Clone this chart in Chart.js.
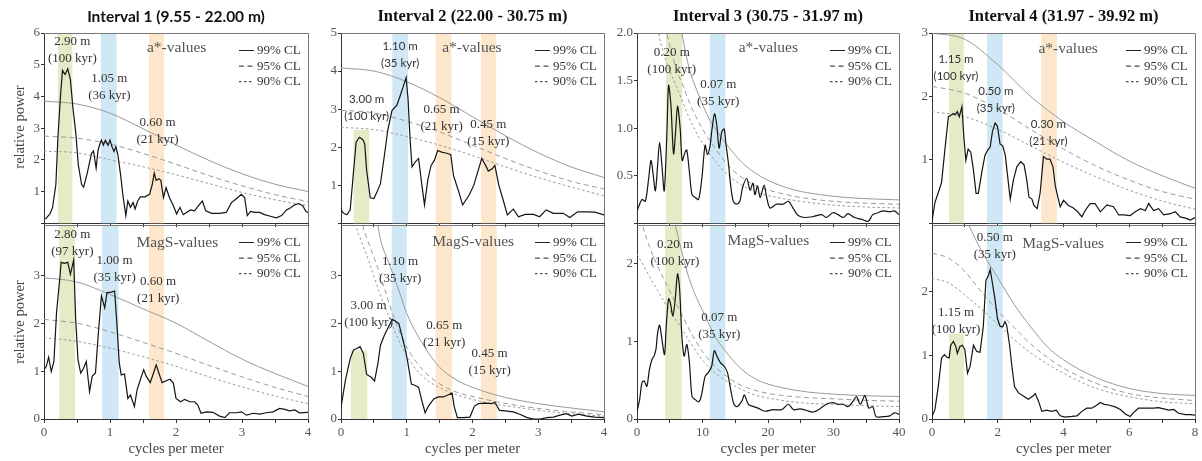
<!DOCTYPE html>
<html>
<head>
<meta charset="utf-8">
<title>Spectral analysis</title>
<script src="https://cdn.jsdelivr.net/npm/chart.js@4.4.1/dist/chart.umd.min.js"></script>
<style>
  body { margin: 0; width: 1202px; height: 461px; background: #fff; position: relative; overflow: hidden; }
  canvas { position: absolute; }
  .txt { position: absolute; transform: translate(-50%, -50%); white-space: nowrap; }
  .ttl { font: bold 16.5px "Liberation Serif", serif; color: #111; }
  .ttl.sans { font: bold 15.5px Lato, sans-serif; }
  .ax { font: 14.5px "Liberation Serif", serif; color: #444; }
  .rot { transform: translate(-50%, -50%) rotate(-90deg); }
</style>
</head>
<body>
<script>
// ---- data: [cycles per meter, relative power] ----
const i1aSpec = [[0.02,0.13],[0.09,0.29],[0.13,0.50],[0.18,1.22],[0.21,2.67],[0.25,4.02],[0.28,4.82],[0.32,4.69],[0.36,4.87],[0.40,4.53],[0.44,3.60],[0.48,2.88],[0.52,1.84],[0.57,1.22],[0.60,1.14],[0.65,1.53],[0.72,2.20],[0.75,2.28],[0.79,1.74],[0.82,2.31],[0.84,2.46],[0.87,2.62],[0.90,2.46],[0.93,2.62],[0.97,2.46],[1.00,2.62],[1.03,2.41],[1.06,2.26],[1.09,2.41],[1.12,2.15],[1.16,1.53],[1.20,0.81],[1.24,0.24],[1.27,0.70],[1.31,0.50],[1.35,0.65],[1.38,0.45],[1.42,0.70],[1.46,0.83],[1.53,0.83],[1.60,0.91],[1.64,1.22],[1.67,1.58],[1.70,1.35],[1.74,1.40],[1.77,1.35],[1.81,0.81],[1.85,1.12],[1.90,0.81],[1.96,0.55],[2.01,0.29],[2.06,0.50],[2.11,0.27],[2.16,0.34],[2.22,0.42],[2.28,0.39],[2.35,0.58],[2.40,0.70],[2.45,0.39],[2.54,0.31],[2.66,0.31],[2.76,0.34],[2.84,0.65],[2.92,0.78],[2.99,0.91],[3.04,0.81],[3.08,0.24],[3.13,0.37],[3.19,0.34],[3.27,0.34],[3.34,0.27],[3.43,0.22],[3.52,0.17],[3.60,0.24],[3.67,0.41],[3.73,0.48],[3.80,0.58],[3.86,0.62],[3.92,0.55],[3.97,0.37],[4.00,0.34]];
const i1bSpec = [[0,1.03],[0.035,1.10],[0.07,1.29],[0.11,0.99],[0.15,1.20],[0.19,2.22],[0.24,2.95],[0.26,3.27],[0.31,3.25],[0.36,3.27],[0.40,3.02],[0.45,3.32],[0.48,2.08],[0.515,1.24],[0.556,0.96],[0.60,1.06],[0.64,1.20],[0.69,0.57],[0.73,0.89],[0.78,0.96],[0.82,1.73],[0.87,2.57],[0.92,2.32],[0.955,2.64],[1.02,2.65],[1.07,2.67],[1.10,2.08],[1.14,1.17],[1.17,0.92],[1.22,0.94],[1.27,0.43],[1.31,0.50],[1.37,0.26],[1.41,0.61],[1.46,0.82],[1.51,1.03],[1.55,0.89],[1.61,0.76],[1.66,0.96],[1.70,1.13],[1.74,0.96],[1.79,0.76],[1.85,0.80],[1.91,0.83],[1.96,0.75],[2.0,0.43],[2.07,0.36],[2.13,0.41],[2.21,0.36],[2.28,0.36],[2.33,0.29],[2.38,0.12],[2.46,0.15],[2.56,0.14],[2.66,0.06],[2.74,0.03],[2.81,0.13],[2.91,0.13],[2.99,0.15],[3.07,0.08],[3.17,0.12],[3.27,0.10],[3.37,0.13],[3.47,0.15],[3.57,0.22],[3.65,0.20],[3.72,0.17],[3.80,0.19],[3.87,0.13],[4.0,0.14]];
const i2aSpec = [[0,0.35],[0.04,0.26],[0.09,0.22],[0.14,0.35],[0.19,1.35],[0.23,2.13],[0.28,2.26],[0.33,2.2],[0.36,2.09],[0.39,1.39],[0.445,0.67],[0.50,0.65],[0.55,0.83],[0.60,1.04],[0.66,1.78],[0.71,2.43],[0.775,2.96],[0.85,3.10],[0.90,3.35],[0.95,3.61],[0.99,3.83],[1.02,3.26],[1.05,2.22],[1.08,1.48],[1.13,1.61],[1.18,1.70],[1.23,1.0],[1.27,0.48],[1.32,1.13],[1.37,1.52],[1.42,1.65],[1.47,1.91],[1.53,1.87],[1.61,1.84],[1.67,1.80],[1.71,1.26],[1.79,0.83],[1.85,0.48],[1.90,0.61],[1.95,0.74],[2.02,1.0],[2.08,1.35],[2.14,1.70],[2.20,1.52],[2.24,1.37],[2.30,1.43],[2.34,1.52],[2.40,1.0],[2.46,0.65],[2.53,0.22],[2.62,0.37],[2.70,0.17],[2.80,0.23],[2.93,0.23],[3.02,0.17],[3.12,0.35],[3.23,0.26],[3.38,0.26],[3.48,0.15],[3.60,0.30],[3.74,0.30],[3.86,0.29],[4.0,0.22]];
const i2bSpec = [[0,0.24],[0.066,0.80],[0.14,1.26],[0.19,1.44],[0.24,1.47],[0.29,1.51],[0.34,1.37],[0.39,0.93],[0.46,0.87],[0.51,0.79],[0.56,1.15],[0.60,1.54],[0.66,1.75],[0.71,1.89],[0.75,2.0],[0.78,2.08],[0.83,2.04],[0.88,1.99],[0.93,1.72],[0.98,1.44],[1.01,1.23],[1.07,0.73],[1.13,0.70],[1.18,0.66],[1.23,0.38],[1.28,0.13],[1.33,0.27],[1.41,0.42],[1.48,0.46],[1.56,0.46],[1.64,0.51],[1.69,0.54],[1.72,0.27],[1.77,0.03],[1.86,0.03],[1.96,0.04],[2.03,0.27],[2.09,0.32],[2.19,0.33],[2.29,0.32],[2.34,0.35],[2.41,0.18],[2.50,0.17],[2.62,0.15],[2.72,0.10],[2.83,0.03],[2.93,0.0],[3.03,0.0],[3.13,0.03],[3.23,0.04],[3.33,0.08],[3.43,0.11],[3.51,0.06],[3.61,0.10],[3.74,0.06],[3.86,0.04],[4.0,0.03]];
const i3aSpec = [[0,0.13],[0.4,0.2],[0.76,0.25],[1.27,0.23],[1.78,0.47],[2.13,0.66],[2.44,0.53],[2.8,0.34],[3.15,0.61],[3.45,0.85],[3.8,0.61],[4.16,0.34],[4.57,0.96],[4.82,1.45],[5.18,1.24],[5.58,0.73],[5.89,0.96],[6.19,1.23],[6.6,0.99],[6.9,0.66],[7.36,0.75],[7.6,0.77],[8.0,0.54],[8.4,0.30],[8.9,0.27],[9.4,0.25],[9.9,0.47],[10.4,0.82],[10.76,0.72],[11.17,0.82],[11.4,0.96],[11.83,1.15],[12.18,1.03],[12.54,0.79],[12.94,0.96],[13.3,0.99],[13.6,0.82],[13.96,0.63],[14.3,0.40],[14.7,0.23],[15.2,0.20],[15.7,0.23],[16.1,0.37],[16.75,0.47],[17.26,0.35],[17.7,0.42],[18.0,0.30],[18.4,0.39],[18.8,0.27],[19.4,0.40],[19.8,0.27],[20.3,0.16],[21.3,0.20],[22.3,0.20],[23.1,0.23],[23.9,0.15],[24.6,0.08],[25.6,0.06],[26.9,0.07],[28.2,0.09],[28.9,0.06],[29.9,0.11],[30.7,0.09],[31.5,0.06],[32.2,0.10],[33.2,0.06],[34.3,0.04],[35.3,0.02],[36.0,0.09],[36.8,0.11],[37.6,0.13],[38.6,0.12],[39.3,0.13],[40,0.09]];
const i3bSpec = [[0,0.10],[0.4,0.25],[0.76,0.47],[1.1,0.49],[1.5,0.42],[1.9,0.64],[2.3,0.77],[2.6,0.81],[2.9,0.90],[3.15,1.11],[3.45,1.21],[3.8,1.03],[4.2,0.83],[4.47,1.20],[4.82,1.55],[5.08,1.50],[5.48,1.33],[5.84,1.55],[6.19,1.87],[6.5,1.68],[6.85,1.07],[7.2,0.81],[7.6,0.96],[8.0,0.73],[8.4,0.29],[8.9,0.25],[9.4,0.22],[9.8,0.29],[10.4,0.55],[10.9,0.60],[11.4,0.68],[11.8,0.88],[12.2,0.81],[12.7,0.73],[13.3,0.68],[13.8,0.60],[14.3,0.38],[14.8,0.19],[15.3,0.16],[16.0,0.23],[16.4,0.31],[17.0,0.19],[17.8,0.16],[18.5,0.14],[19.5,0.10],[20.8,0.12],[22.1,0.12],[23.1,0.19],[23.9,0.12],[24.9,0.13],[25.9,0.11],[26.9,0.09],[27.9,0.13],[28.9,0.19],[29.9,0.21],[30.7,0.19],[31.5,0.19],[32.2,0.16],[33.0,0.23],[33.5,0.29],[34.1,0.19],[34.8,0.30],[35.4,0.14],[36.0,0.16],[36.5,0.03],[37.6,0.03],[38.6,0.04],[39.3,0.08],[40,0.06]];
const i4aSpec = [[0,0.03],[0.09,0.33],[0.19,0.48],[0.29,0.64],[0.40,1.2],[0.5,1.68],[0.6,1.71],[0.65,1.73],[0.7,1.71],[0.77,1.76],[0.83,1.68],[0.91,1.84],[0.97,1.35],[1.03,0.99],[1.1,1.17],[1.18,1.12],[1.26,0.84],[1.34,0.47],[1.41,0.47],[1.51,0.79],[1.61,1.07],[1.69,1.15],[1.77,1.2],[1.84,1.45],[1.92,1.58],[1.99,1.53],[2.07,1.25],[2.15,1.22],[2.23,1.07],[2.29,0.79],[2.38,0.38],[2.48,0.69],[2.58,0.89],[2.7,0.97],[2.8,0.92],[2.88,0.69],[2.95,0.41],[3.04,0.38],[3.1,0.28],[3.2,0.23],[3.29,0.48],[3.39,1.05],[3.49,1.01],[3.59,1.01],[3.68,0.89],[3.75,0.59],[3.82,0.43],[3.9,0.26],[4.0,0.36],[4.15,0.28],[4.3,0.24],[4.43,0.18],[4.56,0.10],[4.66,0.20],[4.81,0.31],[4.96,0.31],[5.12,0.18],[5.32,0.29],[5.52,0.26],[5.68,0.13],[5.83,0.13],[6.03,0.12],[6.18,0.18],[6.34,0.23],[6.49,0.20],[6.59,0.31],[6.74,0.20],[6.89,0.23],[7.05,0.13],[7.25,0.15],[7.4,0.18],[7.55,0.10],[7.71,0.08],[7.86,0.05],[8.0,0.09]];
const i4bSpec = [[0,0.04],[0.09,0.15],[0.19,0.51],[0.29,0.96],[0.38,1.01],[0.45,0.97],[0.52,0.96],[0.57,1.16],[0.65,1.22],[0.72,1.15],[0.77,1.03],[0.85,1.14],[0.92,1.16],[1.0,1.09],[1.08,0.72],[1.16,0.83],[1.26,1.16],[1.36,1.06],[1.46,1.05],[1.56,1.45],[1.64,2.18],[1.72,2.26],[1.77,2.35],[1.84,2.13],[1.92,1.87],[1.99,1.58],[2.07,1.46],[2.15,1.45],[2.22,1.53],[2.27,1.48],[2.36,1.16],[2.43,0.83],[2.51,0.51],[2.63,0.41],[2.78,0.36],[2.93,0.31],[3.07,0.36],[3.14,0.40],[3.24,0.28],[3.34,0.12],[3.49,0.14],[3.64,0.12],[3.78,0.14],[3.9,0.05],[4.05,0.03],[4.25,0.04],[4.41,0.05],[4.56,0.12],[4.71,0.17],[4.86,0.17],[5.02,0.22],[5.12,0.26],[5.24,0.23],[5.37,0.22],[5.57,0.19],[5.73,0.15],[5.88,0.08],[6.03,0.04],[6.13,0.10],[6.28,0.17],[6.54,0.17],[6.74,0.17],[6.89,0.18],[7.05,0.16],[7.2,0.14],[7.35,0.15],[7.5,0.09],[7.71,0.07],[7.86,0.07],[8.0,0.06]];

// ---- confidence levels (99 / 95 / 90 %), frequency and power ----
const clX4 = [0, 0.5, 1, 1.5, 2, 2.5, 3, 3.5, 4];
const i1aCl99 = [3.85, 3.76, 3.47, 2.98, 2.47, 1.98, 1.56, 1.23, 1.0];
const i1aCl95 = [2.75, 2.68, 2.5, 2.2, 1.86, 1.5, 1.18, 0.9, 0.68];
const i1aCl90 = [2.27, 2.22, 2.0, 1.78, 1.53, 1.25, 0.97, 0.74, 0.55];
const i1bCl99 = [2.95, 2.86, 2.6, 2.3, 2.0, 1.62, 1.25, 0.95, 0.68];
const i1bCl95 = [2.08, 2.0, 1.82, 1.6, 1.37, 1.12, 0.88, 0.66, 0.47];
const i1bCl90 = [1.7, 1.62, 1.48, 1.3, 1.1, 0.88, 0.67, 0.48, 0.32];
const i2aCl99 = [4.08, 4.0, 3.72, 3.3, 2.8, 2.3, 1.85, 1.48, 1.2];
const i2aCl95 = [2.97, 2.9, 2.68, 2.4, 2.05, 1.7, 1.38, 1.1, 0.9];
const i2aCl90 = [2.52, 2.46, 2.28, 2.05, 1.78, 1.48, 1.2, 0.95, 0.72];
const i2bCl99X = [0.5, 0.56, 0.6, 0.7, 0.8, 0.9, 1.0, 1.25, 1.5, 1.75, 2.0, 2.5, 3.0, 3.5, 4.0];
const i2bCl99 = [4.5, 4.05, 3.75, 3.35, 3.0, 2.6, 2.2, 1.55, 1.08, 0.82, 0.66, 0.45, 0.32, 0.23, 0.15];
const i2bCl95X = [0.3, 0.33, 0.4, 0.51, 0.66, 0.81, 1.01, 1.27, 1.62, 2.13, 2.79, 3.4, 4.0];
const i2bCl95 = [4.4, 4.05, 3.75, 3.35, 2.73, 2.1, 1.48, 0.99, 0.64, 0.43, 0.26, 0.16, 0.09];
const i2bCl90X = [0.2, 0.23, 0.3, 0.41, 0.58, 0.76, 0.96, 1.22, 1.52, 2.03, 2.79, 3.4, 4.0];
const i2bCl90 = [4.4, 4.05, 3.75, 3.35, 2.66, 2.03, 1.41, 0.92, 0.64, 0.40, 0.22, 0.12, 0.06];
const i3aCl99X = [6, 6.85, 8, 9, 10, 11, 12, 13, 14, 16, 18, 20, 24, 28, 32, 36, 40];
const i3aCl99 = [2.35, 2.0, 1.62, 1.42, 1.25, 1.1, 0.99, 0.89, 0.8, 0.64, 0.53, 0.45, 0.35, 0.3, 0.27, 0.255, 0.245];
const i3aCl95X = [4, 4.57, 5, 6, 7, 8, 9, 10, 12, 14, 16, 18, 20, 25, 30, 35, 40];
const i3aCl95 = [2.25, 2.0, 1.87, 1.62, 1.45, 1.27, 1.12, 0.99, 0.78, 0.6, 0.48, 0.4, 0.35, 0.27, 0.23, 0.21, 0.2];
const i3aCl90X = [3, 3.3, 4, 5, 6, 7, 8, 9, 10, 12, 14, 16, 18, 20, 25, 30, 35, 40];
const i3aCl90 = [2.15, 2.0, 1.8, 1.6, 1.44, 1.27, 1.1, 0.96, 0.84, 0.65, 0.5, 0.4, 0.33, 0.29, 0.23, 0.19, 0.17, 0.16];
const i3bCl99X = [5, 5.84, 7, 8, 9, 10, 11, 12, 13, 14, 16, 18, 20, 25, 30, 35, 40];
const i3bCl99 = [2.8, 2.5, 2.1, 1.8, 1.58, 1.4, 1.22, 1.05, 0.93, 0.82, 0.64, 0.52, 0.45, 0.36, 0.32, 0.3, 0.29];
const i3bClX = [0, 1, 2, 3, 4, 5, 6, 7, 8, 9, 10, 12, 14, 16, 18, 20, 25, 30, 35, 40];
const i3bCl95 = [2.8, 2.45, 2.2, 2.0, 1.82, 1.65, 1.48, 1.32, 1.15, 1.0, 0.87, 0.67, 0.53, 0.43, 0.37, 0.33, 0.28, 0.26, 0.24, 0.23];
const i3bCl90 = [2.12, 1.98, 1.82, 1.68, 1.53, 1.4, 1.27, 1.14, 1.0, 0.88, 0.76, 0.59, 0.47, 0.38, 0.31, 0.27, 0.21, 0.19, 0.17, 0.16];
const clX8 = [0, 1, 2, 3, 4, 5, 6, 7, 8];
const i4aCl99 = [3.0, 2.9, 2.5, 2.0, 1.6, 1.28, 0.98, 0.75, 0.55];
const i4aCl95 = [2.16, 2.05, 1.8, 1.48, 1.17, 0.9, 0.68, 0.5, 0.38];
const i4aCl90 = [1.76, 1.68, 1.48, 1.22, 0.96, 0.73, 0.52, 0.35, 0.22];
const i4bCl99X = [1.0, 1.12, 1.5, 2.0, 2.5, 3.0, 3.5, 4.0, 5.0, 6.0, 7.0, 8.0];
const i4bCl99 = [3.2, 3.05, 2.65, 2.22, 1.8, 1.45, 1.14, 0.93, 0.65, 0.48, 0.40, 0.37];
const i4bClX = [0, 0.5, 1, 1.5, 2, 2.5, 3, 4, 5, 6, 7, 8];
const i4bCl95 = [2.61, 2.53, 2.32, 2.0, 1.7, 1.44, 1.18, 0.8, 0.56, 0.4, 0.33, 0.29];
const i4bCl90 = [2.21, 2.14, 1.95, 1.73, 1.49, 1.25, 1.04, 0.72, 0.48, 0.35, 0.27, 0.24];

// ---- highlighted frequency bands [from, to, cycle, optional top] ----
const i1aBands = [[0.21, 0.43, 'g'], [0.86, 1.10, 'b'], [1.59, 1.82, 'o']];
const i1bBands = [[0.23, 0.47, 'g'], [0.88, 1.13, 'b'], [1.59, 1.82, 'o']];
const i2aBands = [[0.19, 0.43, 'g', 2.45], [0.78, 1.02, 'b'], [1.44, 1.68, 'o'], [2.13, 2.36, 'o']];
const i2bBands = [[0.15, 0.40, 'g', 1.43], [0.77, 1.0, 'b'], [1.44, 1.69, 'o'], [2.13, 2.37, 'o']];
const i3aBands = [[4.4, 6.9, 'g'], [11.1, 13.5, 'b']];
const i3bBands = [[4.3, 6.8, 'g'], [11.1, 13.5, 'b']];
const i4aBands = [[0.52, 0.97, 'g'], [1.67, 2.15, 'b'], [3.32, 3.80, 'o']];
const i4bBands = [[0.52, 0.97, 'g', 1.34], [1.67, 2.15, 'b']];

// ---- ticks ----
const xTicks4 = [0, 0.5, 1, 1.5, 2, 2.5, 3, 3.5, 4];
const xLabels4 = [0, 1, 2, 3, 4];
const xTicks40 = [0, 5, 10, 15, 20, 25, 30, 35, 40];
const xLabels40 = [0, 10, 20, 30, 40];
const xTicks8 = [0, 1, 2, 3, 4, 5, 6, 7, 8];
const xLabels8 = [0, 2, 4, 6, 8];
const titles = ['Interval 1 (9.55 - 22.00 m)', 'Interval 2 (22.00 - 30.75 m)', 'Interval 3 (30.75 - 31.97 m)', 'Interval 4 (31.97 - 39.92 m)'];
const legendLabels = ['99% CL', '95% CL', '90% CL'];

// ---- layout and style ----
const colX = [[44, 308], [341, 604], [637, 899], [932, 1195]];
const rowY = [[33, 225], [225, 419]];
const canvasY = [[20, 232], [212, 461]];
const bandFill = { g: '#e4ecc7', b: '#d0e8f6', o: '#fde7cc' };
const serif = '"Liberation Serif", serif';
const sans = 'Lato, sans-serif';
const clDash = [[], [5, 3.5], [2.5, 2.5]];

const pairs = (xs, ys) => xs.map((x, i) => [x, ys[i]]);

const panels = [
  { col: 0, row: 0, spec: i1aSpec, cl: [pairs(clX4, i1aCl99), pairs(clX4, i1aCl95), pairs(clX4, i1aCl90)], bands: i1aBands,
    x: [0, 4, xTicks4, xLabels4], y: [0, 6, [0, 1, 2, 3, 4, 5, 6], [1, 2, 3, 4, 5, 6]], name: 'a*-values', nameAt: [2.01, 5.52],
    notes: [[0.43, 5.72, '2.90 m', '(100 kyr)'], [0.99, 4.56, '1.05 m', '(36 kyr)'], [1.72, 3.17, '0.60 m', '(21 kyr)']] },
  { col: 0, row: 1, spec: i1bSpec, cl: [pairs(clX4, i1bCl99), pairs(clX4, i1bCl95), pairs(clX4, i1bCl90)], bands: i1bBands,
    x: [0, 4, xTicks4, xLabels4], y: [0, 4.05, [0, 1, 2, 3], [0, 1, 2, 3]], name: 'MagS-values', nameAt: [2.02, 3.68],
    notes: [[0.43, 3.84, '2.80 m', '(97 kyr)'], [1.07, 3.30, '1.00 m', '(35 kyr)'], [1.73, 2.86, '0.60 m', '(21 kyr)']] },
  { col: 1, row: 0, spec: i2aSpec, cl: [pairs(clX4, i2aCl99), pairs(clX4, i2aCl95), pairs(clX4, i2aCl90)], bands: i2aBands,
    x: [0, 4, xTicks4, xLabels4], y: [0, 5, [0, 1, 2, 3, 4, 5], [1, 2, 3, 4, 5]], name: 'a*-values', nameAt: [1.99, 4.6],
    notes: [[0.90, 4.64, '1.10 m', '(35 kyr)', 1], [0.39, 3.27, '3.00 m', '(100 kyr)', 1], [1.53, 2.99, '0.65 m', '(21 kyr)'], [2.24, 2.58, '0.45 m', '(15 kyr)']] },
  { col: 1, row: 1, spec: i2bSpec, cl: [pairs(i2bCl99X, i2bCl99), pairs(i2bCl95X, i2bCl95), pairs(i2bCl90X, i2bCl90)], bands: i2bBands,
    x: [0, 4, xTicks4, xLabels4], y: [0, 4.05, [0, 1, 2, 3], [0, 1, 2, 3]], name: 'MagS-values', nameAt: [2.01, 3.69],
    notes: [[0.90, 3.29, '1.10 m', '(35 kyr)'], [0.42, 2.36, '3.00 m', '(100 kyr)'], [1.57, 1.96, '0.65 m', '(21 kyr)'], [2.26, 1.36, '0.45 m', '(15 kyr)']] },
  { col: 2, row: 0, spec: i3aSpec, cl: [pairs(i3aCl99X, i3aCl99), pairs(i3aCl95X, i3aCl95), pairs(i3aCl90X, i3aCl90)], bands: i3aBands, smooth: 0.3,
    x: [0, 40, xTicks40, xLabels40], y: [0, 2, [0, 0.5, 1, 1.5, 2], [0.5, 1, 1.5, 2]], fixed: 1, name: 'a*-values', nameAt: [20.05, 1.84],
    notes: [[5.3, 1.79, '0.20 m', '(100 kyr)'], [12.4, 1.46, '0.07 m', '(35 kyr)']] },
  { col: 2, row: 1, spec: i3bSpec, cl: [pairs(i3bCl99X, i3bCl99), pairs(i3bClX, i3bCl95), pairs(i3bClX, i3bCl90)], bands: i3bBands, smooth: 0.3,
    x: [0, 40, xTicks40, xLabels40], y: [0, 2.5, [0, 1, 2], [0, 1, 2]], name: 'MagS-values', nameAt: [20.05, 2.30],
    notes: [[5.8, 2.25, '0.20 m', '(100 kyr)'], [12.57, 1.31, '0.07 m', '(35 kyr)']] },
  { col: 3, row: 0, spec: i4aSpec, cl: [pairs(clX8, i4aCl99), pairs(clX8, i4aCl95), pairs(clX8, i4aCl90)], bands: i4aBands,
    x: [0, 8, xTicks8, xLabels8], y: [0, 3, [0, 1, 2, 3], [1, 2, 3]], name: 'a*-values', nameAt: [4.14, 2.75],
    notes: [[0.73, 2.59, '1.15 m', '(100 kyr)', 1], [1.94, 2.08, '0.50 m', '(35 kyr)', 1], [3.54, 1.56, '0.30 m', '(21 kyr)', 1]] },
  { col: 3, row: 1, spec: i4bSpec, cl: [pairs(i4bCl99X, i4bCl99), pairs(i4bClX, i4bCl95), pairs(i4bClX, i4bCl90)], bands: i4bBands,
    x: [0, 8, xTicks8, xLabels8], y: [0, 3.05, [0, 1, 2], [0, 1, 2]], name: 'MagS-values', nameAt: [3.99, 2.76],
    notes: [[1.91, 2.85, '0.50 m', '(35 kyr)'], [0.73, 1.67, '1.15 m', '(100 kyr)']] }
];

function decorFor(p) {
  return {
    id: 'decor',
    beforeDatasetsDraw(chart) {
      const { ctx, chartArea: a, scales: { x, y } } = chart;
      ctx.save();
      p.bands.forEach(([x0, x1, kind, top]) => {
        const px0 = x.getPixelForValue(x0), px1 = x.getPixelForValue(x1);
        const py = top == null ? a.top : y.getPixelForValue(top);
        ctx.fillStyle = bandFill[kind];
        ctx.fillRect(px0, py, px1 - px0, a.bottom - py);
      });
      ctx.restore();
    },
    afterDatasetsDraw(chart) {
      const { ctx, chartArea: a, scales: { x, y } } = chart;
      ctx.save();
      // frame top and right
      ctx.strokeStyle = '#777';
      ctx.lineWidth = 1;
      ctx.beginPath();
      ctx.moveTo(a.left, a.top + 0.5);
      ctx.lineTo(a.right + 0.5, a.top + 0.5);
      ctx.lineTo(a.right + 0.5, a.bottom);
      ctx.stroke();

      ctx.textAlign = 'center';
      ctx.textBaseline = 'middle';
      p.notes.forEach(([nx, ny, l1, l2, isSans]) => {
        const px = x.getPixelForValue(nx), py = y.getPixelForValue(ny);
        ctx.fillStyle = '#333';
        ctx.font = isSans ? '11.5px ' + sans : '13px ' + serif;
        ctx.fillText(l1, px, py);
        ctx.fillText(l2, px, py + 17);
      });
      ctx.fillStyle = '#555';
      ctx.font = '15.5px ' + serif;
      ctx.fillText(p.name, x.getPixelForValue(p.nameAt[0]), y.getPixelForValue(p.nameAt[1]));

      // legend
      ctx.textAlign = 'left';
      ctx.font = '13px ' + serif;
      legendLabels.forEach((lab, i) => {
        const ly = a.top + 17.5 + i * 15.6;
        ctx.strokeStyle = '#222';
        ctx.setLineDash(clDash[i]);
        ctx.beginPath();
        ctx.moveTo(a.right - 69, ly);
        ctx.lineTo(a.right - 54, ly);
        ctx.stroke();
        ctx.setLineDash([]);
        ctx.fillStyle = '#333';
        ctx.fillText(lab, a.right - 51, ly);
      });
      ctx.restore();
    }
  };
}

function makePanel(p) {
  const [l, r] = colX[p.col];
  const [plotTop, plotBottom] = rowY[p.row];
  const [cTop, cBottom] = canvasY[p.row];
  const cv = document.createElement('canvas');
  cv.width = r - l + 52;
  cv.height = cBottom - cTop;
  cv.style.left = (l - 40) + 'px';
  cv.style.top = cTop + 'px';
  document.body.appendChild(cv);

  const tickFont = { family: serif, size: 13 };
  const clSets = p.cl.map((d, i) => ({
    data: d, borderColor: '#9a9a9a', borderWidth: 1, borderDash: clDash[i],
    pointRadius: 0, cubicInterpolationMode: 'monotone'
  }));

  new Chart(cv, {
    type: 'line',
    data: {
      datasets: [
        { data: p.spec, borderColor: '#141414', borderWidth: 1.2, pointRadius: 0, tension: p.smooth || 0 },
        ...clSets
      ]
    },
    options: {
      responsive: false,
      animation: false,
      devicePixelRatio: 1,
      layout: { padding: { left: 0, right: 12, top: plotTop - cTop, bottom: 0 } },
      plugins: { legend: { display: false }, tooltip: { enabled: false } },
      scales: {
        x: {
          type: 'linear', min: p.x[0], max: p.x[1],
          afterBuildTicks: ax => { ax.ticks = p.x[2].map(v => ({ value: v })); },
          afterFit: ax => { ax.height = cBottom - plotBottom; },
          ticks: {
            display: p.row === 1, autoSkip: false, maxRotation: 0, padding: 2,
            font: tickFont, color: '#555',
            callback: v => p.x[3].includes(v) ? String(v) : ''
          },
          grid: { drawOnChartArea: false, tickLength: 4, color: '#333' },
          border: { color: '#333' }
        },
        y: {
          type: 'linear', min: p.y[0], max: p.y[1],
          afterBuildTicks: ax => { ax.ticks = p.y[2].map(v => ({ value: v })); },
          afterFit: ax => { ax.width = 40; },
          ticks: {
            autoSkip: false, padding: 1, font: tickFont, color: '#555',
            callback: v => p.y[3].includes(v) ? (p.fixed ? v.toFixed(1) : String(v)) : ''
          },
          grid: { drawOnChartArea: false, tickLength: 3, color: '#333' },
          border: { color: '#333' }
        }
      }
    },
    plugins: [decorFor(p)]
  });
}

panels.forEach(makePanel);

function addText(text, cls, x, y) {
  const d = document.createElement('div');
  d.className = 'txt ' + cls;
  d.textContent = text;
  d.style.left = x + 'px';
  d.style.top = y + 'px';
  document.body.appendChild(d);
}

titles.forEach((t, i) => {
  const [l, r] = colX[i];
  addText(t, i === 0 ? 'ttl sans' : 'ttl', (l + r) / 2, 16);
  addText('cycles per meter', 'ax', (l + r) / 2, 448);
});
addText('relative power', 'ax rot', 19, 127);
addText('relative power', 'ax rot', 19, 322);
</script>
</body>
</html>
